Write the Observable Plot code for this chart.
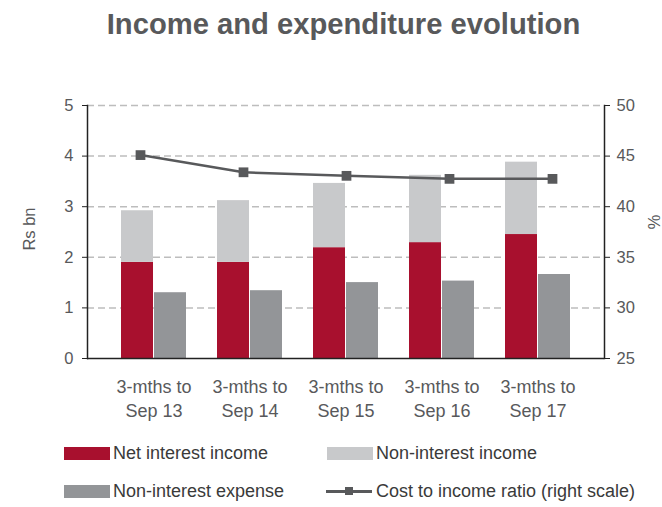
<!DOCTYPE html>
<html>
<head>
<meta charset="utf-8">
<script src="https://cdn.jsdelivr.net/npm/d3@7"></script>
<script src="https://cdn.jsdelivr.net/npm/@observablehq/plot@0.6"></script>
<style>
  html, body { margin: 0; padding: 0; background: #fff; }
  #wrap { position: relative; width: 662px; height: 507px; font-family: "Liberation Sans", Arial, sans-serif; overflow: hidden; }
  #title { position: absolute; top: 8px; left: 0; width: 687px; text-align: center; font-weight: bold; font-size: 29.2px; color: #58595B; }
  .layer { position: absolute; top: 0; left: 0; }
  .legend { position: absolute; font-size: 18px; color: #3a3a3a; display: flex; align-items: center; white-space: nowrap; }
  .sw { display: inline-block; width: 46px; height: 13px; margin-right: 3px; }
  .ln { position: relative; display: inline-block; width: 46px; height: 13px; margin-right: 4px; }
  .ln::before { content: ""; position: absolute; left: 0; right: 0; top: 5px; height: 2.5px; background: #58595B; }
  .ln::after { content: ""; position: absolute; left: 19px; top: 2px; width: 8px; height: 8px; background: #58595B; }
  .ylab { position: absolute; font-size: 16.5px; line-height: 16px; color: #58595B; white-space: nowrap; transform-origin: center center; }
</style>
</head>
<body>
<div id="wrap">
  <div id="title">Income and expenditure evolution</div>
  <div id="bars" class="layer"></div>
  <div id="line" class="layer"></div>
  <div class="ylab" id="ylabL" style="left:6px; top:221px; width:46px; text-align:center; transform: rotate(-90deg);">Rs bn</div>
  <div class="ylab" id="ylabR" style="left:646px; top:214px; width:16px; text-align:center; transform: rotate(90deg);">%</div>
  <div class="legend" style="left:64px; top:443px;"><span class="sw" style="background:#A8102E"></span>Net interest income</div>
  <div class="legend" style="left:327px; top:443px;"><span class="sw" style="background:#C8C9CB"></span>Non-interest income</div>
  <div class="legend" style="left:64px; top:481px;"><span class="sw" style="background:#939598"></span>Non-interest expense</div>
  <div class="legend" style="left:326px; top:481px;"><span class="ln"></span>Cost to income ratio (right scale)</div>
</div>
<script>
const periods = ["Sep 13", "Sep 14", "Sep 15", "Sep 16", "Sep 17"];
const tickLabels = ["3-mths to\nSep 13", "3-mths to\nSep 14", "3-mths to\nSep 15", "3-mths to\nSep 16", "3-mths to\nSep 17"];
const netInterestIncome = [1.90, 1.90, 2.19, 2.29, 2.45];
const nonInterestIncome = [1.02, 1.22, 1.27, 1.33, 1.43];
const nonInterestExpense = [1.30, 1.34, 1.50, 1.53, 1.66];
const costToIncome = [45.1, 43.4, 43.05, 42.75, 42.75];

const C_NII = "#A8102E", C_NONII = "#C8C9CB", C_EXP = "#939598", C_LINE = "#58595B";

const incomeRows = periods.flatMap((p, i) => [
  {period: p, series: "Net interest income", y1: 0, y2: netInterestIncome[i]},
  {period: p, series: "Non-interest income", y1: netInterestIncome[i], y2: netInterestIncome[i] + nonInterestIncome[i]}
]);
const expenseRows = periods.map((p, i) => ({period: p, value: nonInterestExpense[i]}));
const ratioRows = periods.map((p, i) => ({period: p, value: costToIncome[i]}));
const labelOf = new Map(periods.map((p, i) => [p, tickLabels[i]]));

const common = {
  width: 662, height: 430,
  marginTop: 105, marginBottom: 72, marginLeft: 87, marginRight: 58,
  style: {fontFamily: "Liberation Sans, Arial, sans-serif", fontSize: "16px", color: "#58595B", background: "transparent", overflow: "visible"}
};

const bars = Plot.plot({
  ...common,
  x: {domain: periods, paddingInner: 0.32, paddingOuter: 0.33},
  y: {domain: [0, 5]},
  marks: [
    Plot.ruleY([1, 2, 3, 4, 5], {stroke: "#BDBDBD", strokeWidth: 1.5, strokeDasharray: "7,4"}),
    Plot.barY(incomeRows, {x: "period", y1: "y1", y2: "y2", fill: d => d.series === "Net interest income" ? C_NII : C_NONII, insetRight: 33}),
    Plot.barY(expenseRows, {x: "period", y: "value", fill: C_EXP, insetLeft: 33}),
    Plot.axisY({ticks: [0, 1, 2, 3, 4, 5], tickFormat: d3.format("d"), tickSize: 5, tickPadding: 9, stroke: "#222", label: null, fontSize: 16.5}),
    Plot.axisX({tickSize: 0, tickPadding: 17, tickFormat: d => labelOf.get(d), lineHeight: 1.35, fontSize: 18, label: null}),
    Plot.frame({anchor: "left", stroke: "#222", strokeWidth: 1.5}),
    Plot.ruleY([0], {stroke: "#222", strokeWidth: 1.5})
  ]
});
document.getElementById("bars").appendChild(bars);

const line = Plot.plot({
  ...common,
  x: {type: "point", domain: periods, padding: 0.5, axis: null},
  y: {domain: [25, 50]},
  marks: [
    Plot.axisY({anchor: "right", ticks: [25, 30, 35, 40, 45, 50], tickFormat: d3.format("d"), tickSize: 5, tickPadding: 7, stroke: "#222", label: null, fontSize: 16.5}),
    Plot.frame({anchor: "right", stroke: "#222", strokeWidth: 1.5}),
    Plot.lineY(ratioRows, {x: "period", y: "value", stroke: C_LINE, strokeWidth: 2.5}),
    Plot.dot(ratioRows, {x: "period", y: "value", symbol: "square", r: 5.5, fill: C_LINE, stroke: "none"})
  ]
});
document.getElementById("line").appendChild(line);
</script>
</body>
</html>
